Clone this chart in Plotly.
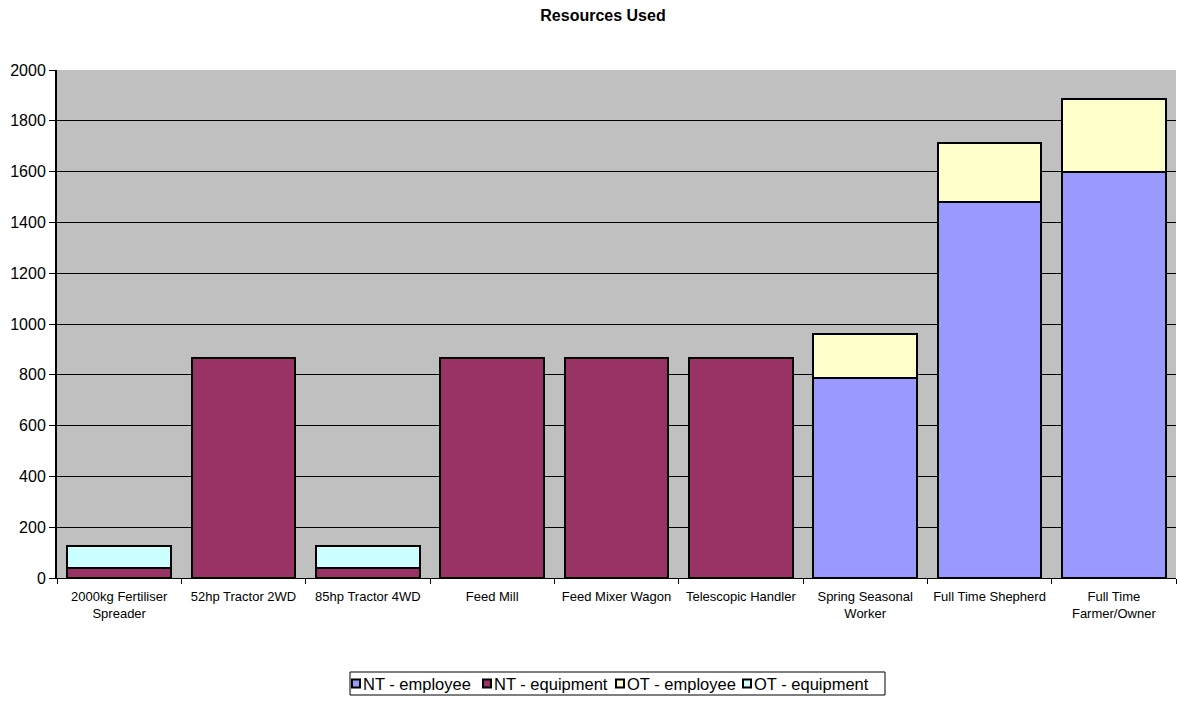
import plotly.graph_objects as go

# Resource categories (x axis)
categories = [
    "2000kg Fertiliser<br>Spreader",
    "52hp Tractor 2WD",
    "85hp Tractor 4WD",
    "Feed Mill",
    "Feed Mixer Wagon",
    "Telescopic Handler",
    "Spring Seasonal<br>Worker",
    "Full Time Shepherd",
    "Full Time<br>Farmer/Owner",
]

# Hours used, by series (stacked: normal time below overtime)
nt_employee = [0, 0, 0, 0, 0, 0, 788, 1482, 1600]
nt_equipment = [39, 867, 39, 867, 867, 867, 0, 0, 0]
ot_employee = [0, 0, 0, 0, 0, 0, 171, 232, 285]
ot_equipment = [88, 0, 88, 0, 0, 0, 0, 0, 0]

y_ticks = [0, 200, 400, 600, 800, 1000, 1200, 1400, 1600, 1800, 2000]

series_names = ["NT - employee", "NT - equipment", "OT - employee", "OT - equipment"]
series_values = [nt_employee, nt_equipment, ot_employee, ot_equipment]
series_colors = ["#9999FF", "#993366", "#FFFFCC", "#CCFFFF"]

font_family = "Liberation Sans, Arial, sans-serif"

W, H = 1177, 711
M_L, M_R, M_T, M_B = 57, 1, 70, 133
PLOT_W = W - M_L - M_R
PLOT_H = H - M_T - M_B


def px_x(x):
    """Page pixel x -> paper fraction."""
    return (x - M_L) / PLOT_W


def px_y(y):
    """Page pixel y (from top) -> paper fraction."""
    return (H - M_B - y) / PLOT_H


fig = go.Figure()
for name, values, color in zip(series_names, series_values, series_colors):
    fig.add_trace(go.Bar(
        name=name,
        x=categories,
        y=values,
        marker=dict(color=color, line=dict(color="black", width=2)),
        showlegend=False,
    ))

# Compact boxed legend below the chart
legend_top, legend_bottom = 672, 695
legend_left, legend_right = 350, 885
legend_mid = (legend_top + legend_bottom) / 2
entry_square_x = [352, 483, 616, 743]
shapes = [dict(
    type="rect", xref="paper", yref="paper",
    x0=px_x(legend_left), x1=px_x(legend_right),
    y0=px_y(legend_bottom), y1=px_y(legend_top),
    line=dict(color="black", width=1), fillcolor="white", layer="below",
)]
annotations = []
for name, color, sx in zip(series_names, series_colors, entry_square_x):
    shapes.append(dict(
        type="rect", xref="paper", yref="paper",
        x0=px_x(sx), x1=px_x(sx + 8),
        y0=px_y(legend_mid + 4), y1=px_y(legend_mid - 4),
        line=dict(color="black", width=2), fillcolor=color,
    ))
    annotations.append(dict(
        xref="paper", yref="paper",
        x=px_x(sx + 9), y=px_y(legend_mid),
        xanchor="left", yanchor="middle",
        text=name, showarrow=False,
        font=dict(family=font_family, size=16.5, color="black"),
    ))

fig.update_layout(
    width=W,
    height=H,
    barmode="stack",
    bargap=0.165,
    paper_bgcolor="white",
    plot_bgcolor="#C0C0C0",
    margin=dict(l=M_L, r=M_R, t=M_T, b=M_B),
    font=dict(family=font_family, size=13, color="black"),
    title=dict(
        text="<b>Resources Used</b>",
        x=603 / W,
        xref="container",
        xanchor="center",
        y=1 - 15 / H,
        yanchor="middle",
        font=dict(family=font_family, size=16, color="black"),
    ),
    shapes=shapes,
    annotations=annotations,
    showlegend=False,
)

fig.update_xaxes(
    showline=True,
    linecolor="black",
    linewidth=1,
    ticks="outside",
    tickson="boundaries",
    ticklen=5,
    tickcolor="black",
    ticklabelstandoff=6,
    showgrid=False,
    tickfont=dict(family=font_family, size=13, color="black"),
)

fig.update_yaxes(
    range=[0, 2000],
    tickvals=y_ticks,
    showline=True,
    linecolor="black",
    linewidth=2,
    ticks="outside",
    ticklen=6,
    tickcolor="black",
    showgrid=True,
    gridcolor="black",
    gridwidth=1,
    zeroline=False,
    tickfont=dict(family=font_family, size=16, color="black"),
)

fig.write_html("out.html")
